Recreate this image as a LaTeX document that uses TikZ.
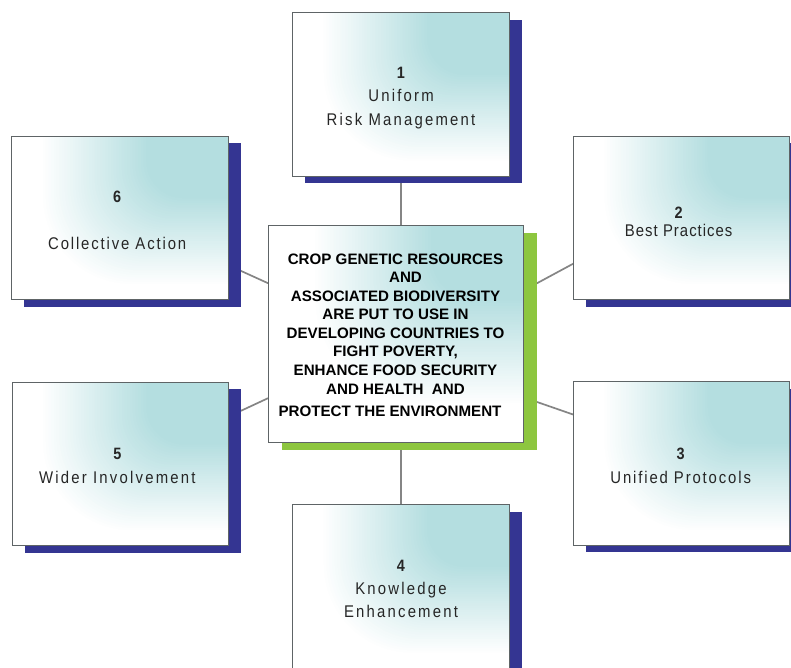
\documentclass[tikz,border=0pt]{standalone}
\usepackage{fontspec}
\setmainfont{Liberation Sans}
\newfontfamily\lblA[FakeStretch=0.88,LetterSpace=13]{Liberation Sans}
\newfontfamily\lblB[FakeStretch=0.88,LetterSpace=11]{Liberation Sans}
\newfontfamily\lblC[FakeStretch=0.88,LetterSpace=6]{Liberation Sans}
\usetikzlibrary{shadows,backgrounds,calc}
\definecolor{tealc}{HTML}{B4DEE0}
\definecolor{shblue}{HTML}{343592}
\definecolor{shgreen}{HTML}{8DC63F}
\definecolor{edgegray}{HTML}{5E6466}
\definecolor{linkgray}{HTML}{858585}
\newcommand\goalnum[1]{{\bfseries\fontsize{16.5}{23.5}\selectfont #1}}
\tikzset{
  glow/.style 2 args={fill=white, path picture={
    \coordinate (glowc) at (path picture bounding box.north east);
    \foreach \k in {0,...,39}{
      \pgfmathsetmacro\aa{(188-\k*106/39)*#1}
      \pgfmathsetmacro\bb{(150-\k*88/39)*#2}
      \pgfmathsetmacro\rc{0.6*\bb}
      \pgfmathsetmacro\pp{\k/39*100}
      \fill[tealc!\pp!white, rounded corners=\rc bp]
        ($(glowc)+(100bp,100bp)$) rectangle ($(glowc)+(-\aa bp,-\bb bp)$);
    }}},
  goalbox/.style={draw=edgegray, line width=1bp, glow={1}{1},
    minimum width=216.5bp, minimum height=163.5bp, inner sep=0pt, outer sep=0pt,
    drop shadow={shadow xshift=12.5bp, shadow yshift=-7bp, fill=shblue, opacity=1}},
  goaltext/.style={align=center, text=black!85, inner sep=0pt},
  spacedA/.style={goaltext, font=\lblA\fontsize{17}{23.5}\selectfont},
  spacedB/.style={goaltext, font=\lblB\fontsize{17}{23.5}\selectfont},
  spacedC/.style={goaltext, font=\lblC\fontsize{17}{23.5}\selectfont},
  corebox/.style={draw=edgegray, line width=1bp, glow={1.12}{1.2},
    minimum width=255bp, minimum height=217bp, inner sep=0pt, outer sep=0pt,
    drop shadow={shadow xshift=14bp, shadow yshift=-7bp, fill=shgreen, opacity=1}},
  coretext/.style={align=center, text=black, inner sep=0pt,
    font=\bfseries\fontsize{15.2}{18.6}\selectfont},
  link/.style={draw=linkgray, line width=1.7bp}
}
\begin{document}
\begin{tikzpicture}[x=1bp,y=1bp]
\useasboundingbox (0,0) rectangle (791,668);
\node[goalbox, label={[spacedA,yshift=-3.5bp]center:{\goalnum{1}\\Uniform\\Risk Management}}] (b1) at (401,573.5) {};
\node[goalbox, label={[spacedC,xshift=-3bp,yshift=-4bp]center:{\goalnum{2}\\[-6bp]Best Practices}}] (b2) at (681.7,450.2) {};
\node[goalbox, label={[spacedB,xshift=-1bp,yshift=-2bp]center:{\goalnum{3}\\Unified Protocols}}] (b3) at (681.7,204.3) {};
\node[goalbox, label={[spacedA,yshift=-2.5bp]center:{\goalnum{4}\\Knowledge\\Enhancement}}] (b4) at (401,81.5) {};
\node[goalbox, label={[spacedA,xshift=-3bp,yshift=-2bp]center:{\goalnum{5}\\Wider Involvement}}] (b5) at (120.3,204) {};
\node[goalbox, label={[spacedB,xshift=-3bp,yshift=-3bp]center:{\goalnum{6}\\[23.5bp]Collective Action}}] (b6) at (120.2,450.2) {};
\node[corebox, label={[coretext,yshift=-1bp]center:{CROP GENETIC RESOURCES\\\hspace*{20bp}AND\\ASSOCIATED BIODIVERSITY\\ARE PUT TO USE IN\\DEVELOPING COUNTRIES TO\\FIGHT POVERTY,\\ENHANCE FOOD SECURITY\\AND HEALTH\ \ AND\\[4bp]PROTECT THE ENVIRONMENT\hspace*{11bp}}}] (c) at (395.5,333.8) {};
\begin{scope}[on background layer]
  \draw[link] (b1.south) -- (b1.south |- c.north);
  \draw[link] (b4.north) -- (b4.north |- c.south);
  \draw[link] ($(b6.south east)!0.21!(b6.north east)$) -- ($(c.north west)!0.265!(c.south west)$);
  \draw[link] ($(b5.north east)!0.21!(b5.south east)$) -- ($(c.north west)!0.795!(c.south west)$);
  \draw[link] ($(b2.north west)!0.78!(b2.south west)$) -- ($(c.north east)!0.3!(c.south east)$);
  \draw[link] ($(b3.north west)!0.2!(b3.south west)$) -- ($(c.north east)!0.79!(c.south east)$);
\end{scope}
\end{tikzpicture}
\end{document}
